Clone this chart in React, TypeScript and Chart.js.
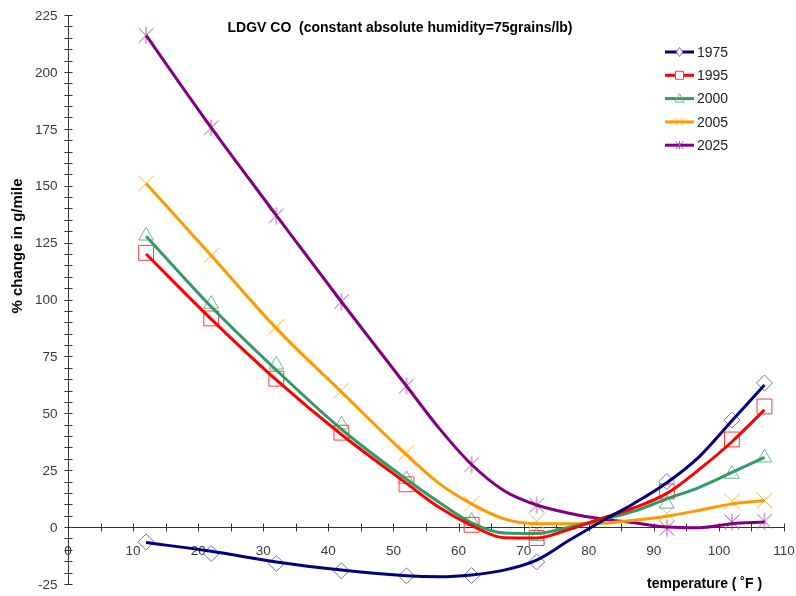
import React, { useEffect, useRef } from 'react';
import { Chart, registerables } from 'chart.js';

Chart.register(...registerables);

const chartTitle = 'LDGV CO  (constant absolute humidity=75grains/lb)';
const xAxisTitle = 'temperature ( \u02DAF )';
const yAxisTitle = '% change in g/mile';

const seriesNames = ['1975', '1995', '2000', '2005', '2025'];
const lineColors = ['#000080', '#ff0000', '#339966', '#ff9900', '#800080'];
const markerColors = ['#6f6fc8', '#ff3a3a', '#6cb891', '#ffb545', '#a455a4'];

const xTickLabels = [0, 10, 20, 30, 40, 50, 60, 70, 80, 90, 100, 110];
const yTickLabels = [-25, 0, 25, 50, 75, 100, 125, 150, 175, 200, 225];

// measured points (markers)
const markerTemps = [12, 22, 32, 42, 52, 62, 72, 92, 102, 107];
const marker1975 = [-6.5, -11.6, -16, -19.2, -21.4, -21.3, -15.3, 20, 47, 63.3];
const marker1995 = [120.5, 91.7, 65.2, 41.5, 18.8, 1, -4.8, 15.7, 38.5, 53];
const marker2000 = [128, 98, 71.3, 45, 21, 2.6, -4, 10.2, 23.3, 30.5];
const marker2005 = [151, 119.3, 88, 60, 32.7, 10.2, 2.6, 6, 11.3, 11.7];
const marker2025 = [216, 175.5, 136.8, 99, 62, 27.5, 9.6, -0.5, 2.2, 2.5];

// smoothed curves
const curveTemps = [12, 22, 32, 42, 52, 57, 62, 67, 72, 77, 82, 87, 92, 97, 102, 107];
const curve1975 = [-6.8, -10.6, -15.3, -18.9, -21.4, -21.8, -21, -18.9, -14.5, -5.8, 2.6, 10.5, 19.5, 31, 46.7, 62.4];
const curve1995 = [120, 91.4, 64.7, 40.7, 19.2, 8.7, 0.7, -4.7, -4.8, -1, 3.9, 8.5, 14.8, 25.4, 37.5, 51.5];
const curve2000 = [127.8, 96.8, 69, 43, 21, 10.9, 1.9, -2.6, -2.8, 0, 3.2, 7, 12.4, 17.5, 24, 30.6];
const curve2005 = [151, 119.3, 87.3, 59.4, 31.7, 19.2, 10.2, 3.6, 1.5, 1.5, 1.7, 3, 4.8, 7.4, 10.2, 11.7];
const curve2025 = [216, 175.5, 137, 99, 62, 43.5, 27.5, 16, 9.7, 6.1, 3.6, 1.9, 0, -0.3, 1.5, 2.2];

const markerSeries = [marker1975, marker1995, marker2000, marker2005, marker2025];
const curveSeries = [curve1975, curve1995, curve2000, curve2005, curve2025];
const pointStyles = ['rectRot', 'rect', 'triangle', 'crossRot', 'asterisk'];
const pointRadii = [8, 10.5, 8.5, 11, 9];

const FONT = "'Liberation Sans', Arial, sans-serif";

function makeAsterisk(size: number, color: string) {
  const c = document.createElement('canvas');
  c.width = size;
  c.height = size;
  const ctx = c.getContext('2d')!;
  const r = size / 2 - 0.5;
  const m = size / 2;
  ctx.strokeStyle = color;
  ctx.lineWidth = 1;
  ctx.beginPath();
  ctx.moveTo(m, m - r);
  ctx.lineTo(m, m + r);
  ctx.moveTo(m - r * 0.87, m - r * 0.87);
  ctx.lineTo(m + r * 0.87, m + r * 0.87);
  ctx.moveTo(m + r * 0.87, m - r * 0.87);
  ctx.lineTo(m - r * 0.87, m + r * 0.87);
  ctx.stroke();
  return c;
}

function drawLegendMarker(ctx: CanvasRenderingContext2D, style: string, x: number, y: number, color: string) {
  ctx.save();
  ctx.strokeStyle = color;
  ctx.fillStyle = '#ffffff';
  ctx.lineWidth = 1;
  ctx.beginPath();
  if (style === 'rectRot') {
    const r = 4.5;
    ctx.moveTo(x, y - r);
    ctx.lineTo(x + r * 0.7, y);
    ctx.lineTo(x, y + r);
    ctx.lineTo(x - r * 0.7, y);
    ctx.closePath();
    ctx.fill();
    ctx.stroke();
  } else if (style === 'rect') {
    ctx.rect(x - 4, y - 4, 8, 8);
    ctx.fill();
    ctx.stroke();
  } else if (style === 'triangle') {
    ctx.moveTo(x, y - 5);
    ctx.lineTo(x + 4.5, y + 3.5);
    ctx.lineTo(x - 4.5, y + 3.5);
    ctx.closePath();
    ctx.stroke();
  } else if (style === 'crossRot') {
    const r = 4;
    ctx.moveTo(x - r, y - r);
    ctx.lineTo(x + r, y + r);
    ctx.moveTo(x + r, y - r);
    ctx.lineTo(x - r, y + r);
    ctx.stroke();
  } else {
    const r = 4;
    ctx.moveTo(x, y - r);
    ctx.lineTo(x, y + r);
    ctx.moveTo(x - r, y - r);
    ctx.lineTo(x + r, y + r);
    ctx.moveTo(x + r, y - r);
    ctx.lineTo(x - r, y + r);
    ctx.stroke();
  }
  ctx.restore();
}

const decorPlugin = {
  id: 'decor',
  beforeDatasetsDraw(chart: any) {
    const ctx: CanvasRenderingContext2D = chart.ctx;
    const xs = chart.scales.x;
    const ys = chart.scales.y;
    const axisColor = '#333333';
    const x0 = Math.round(xs.getPixelForValue(0)) + 0.5;
    const y0 = Math.round(ys.getPixelForValue(0)) + 0.5;
    const yTop = ys.getPixelForValue(225);
    const yBot = ys.getPixelForValue(-25);
    const xRight = xs.getPixelForValue(110);
    ctx.save();
    ctx.strokeStyle = axisColor;
    ctx.lineWidth = 1;
    ctx.beginPath();
    // y axis
    ctx.moveTo(x0, Math.round(yTop));
    ctx.lineTo(x0, Math.round(yBot) + 1);
    for (let v = -25; v <= 225; v += 5) {
      const py = Math.round(ys.getPixelForValue(v)) + 0.5;
      ctx.moveTo(x0 - 4, py);
      ctx.lineTo(x0 + 4, py);
    }
    // x axis
    ctx.moveTo(x0, y0);
    ctx.lineTo(Math.round(xRight) + 1, y0);
    for (let v = 0; v <= 110; v += 5) {
      const px = Math.round(xs.getPixelForValue(v)) + 0.5;
      ctx.moveTo(px, y0 - 4);
      ctx.lineTo(px, y0 + 4);
    }
    ctx.stroke();

    // tick labels
    ctx.fillStyle = '#3a3a3a';
    ctx.font = `13.5px ${FONT}`;
    ctx.textAlign = 'right';
    ctx.textBaseline = 'middle';
    yTickLabels.forEach((v) => {
      ctx.fillText(String(v), x0 - 11, ys.getPixelForValue(v) + 1);
    });
    ctx.textAlign = 'center';
    xTickLabels.forEach((v) => {
      ctx.fillText(String(v), xs.getPixelForValue(v), y0 + 24);
    });

    // titles
    ctx.fillStyle = '#000000';
    ctx.font = `bold 14px ${FONT}`;
    ctx.textAlign = 'center';
    ctx.fillText(chartTitle, 400, 28);
    ctx.textAlign = 'left';
    ctx.fillText(xAxisTitle, 647, 584);
    ctx.save();
    ctx.translate(18, 246);
    ctx.rotate(-Math.PI / 2);
    ctx.textAlign = 'center';
    ctx.font = `bold 15px ${FONT}`;
    ctx.fillText(yAxisTitle, 0, 0);
    ctx.restore();

    // legend
    seriesNames.forEach((name, i) => {
      const ly = 52 + i * 23.3;
      ctx.strokeStyle = lineColors[i];
      ctx.lineWidth = 3;
      ctx.beginPath();
      ctx.moveTo(665, ly);
      ctx.lineTo(694, ly);
      ctx.stroke();
      drawLegendMarker(ctx, pointStyles[i], 679.5, ly, markerColors[i]);
      ctx.fillStyle = '#222222';
      ctx.font = `14px ${FONT}`;
      ctx.textAlign = 'left';
      ctx.textBaseline = 'middle';
      ctx.fillText(name, 697, ly + 1);
    });
    ctx.restore();
  },
};

export default function App() {
  const ref = useRef<HTMLCanvasElement | null>(null);
  useEffect(() => {
    if (!ref.current) return;
    const datasets: any[] = [];
    seriesNames.forEach((name, i) => {
      datasets.push({
        type: 'line',
        label: name + ' fit',
        data: curveTemps.map((t, j) => ({ x: t, y: curveSeries[i][j] })),
        borderColor: lineColors[i],
        borderWidth: 3,
        pointRadius: 0,
        fill: false,
        cubicInterpolationMode: 'monotone',
        order: 1,
      });
    });
    seriesNames.forEach((name, i) => {
      const style = pointStyles[i] === 'asterisk' ? makeAsterisk(18, markerColors[i]) : pointStyles[i];
      datasets.push({
        type: 'scatter',
        label: name,
        data: markerTemps.map((t, j) => ({ x: t, y: markerSeries[i][j] })),
        borderColor: markerColors[i],
        backgroundColor: 'rgba(0,0,0,0)',
        pointStyle: style,
        pointRadius: pointRadii[i],
        pointBorderWidth: 1,
        showLine: false,
        order: 2,
      });
    });
    const chart = new Chart(ref.current, {
      type: 'scatter',
      data: { datasets },
      options: {
        animation: false,
        responsive: false,
        layout: { padding: { left: 68, right: 12, top: 15, bottom: 9 } },
        plugins: { legend: { display: false }, title: { display: false }, tooltip: { enabled: false } },
        scales: {
          x: { type: 'linear', min: 0, max: 110, display: false },
          y: { type: 'linear', min: -25, max: 225, display: false },
        },
      },
      plugins: [decorPlugin],
    });
    return () => chart.destroy();
  }, []);
  return (
    <div style={{ position: 'fixed', left: 0, top: 0, width: 796, height: 596, background: '#fff' }}>
      <canvas ref={ref} width={796} height={596} style={{ width: 796, height: 596 }} />
    </div>
  );
}
